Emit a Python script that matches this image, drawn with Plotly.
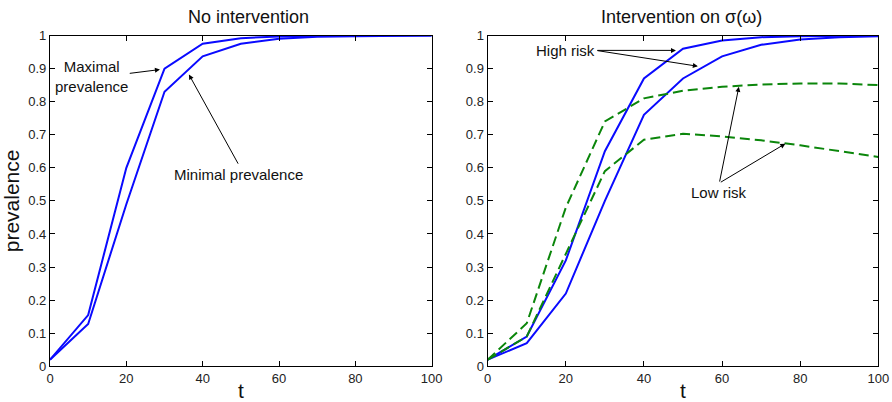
import plotly.graph_objects as go

t = [0, 10, 20, 30, 40, 50, 60, 70, 80, 90, 100]
max_prev = [0.02, 0.155, 0.60, 0.90, 0.975, 0.992, 0.997, 0.999, 1.0, 1.0, 1.0]
min_prev = [0.02, 0.128, 0.49, 0.83, 0.937, 0.975, 0.99, 0.996, 0.998, 0.999, 1.0]
high_risk_a = [0.02, 0.09, 0.32, 0.65, 0.87, 0.96, 0.985, 0.995, 0.998, 0.999, 1.0]
high_risk_b = [0.02, 0.07, 0.22, 0.50, 0.76, 0.87, 0.937, 0.972, 0.988, 0.995, 0.998]
low_risk_a = [0.02, 0.13, 0.48, 0.74, 0.81, 0.833, 0.845, 0.852, 0.855, 0.855, 0.85]
low_risk_b = [0.02, 0.09, 0.34, 0.59, 0.685, 0.703, 0.695, 0.683, 0.668, 0.65, 0.633]

y_ticks = [0, 0.1, 0.2, 0.3, 0.4, 0.5, 0.6, 0.7, 0.8, 0.9, 1]
y_tick_labels = ["0", "0.1", "0.2", "0.3", "0.4", "0.5", "0.6", "0.7", "0.8", "0.9", "1"]
x_ticks = [0, 20, 40, 60, 80, 100]

BLUE = "#0a0aff"
GREEN = "#0b860b"
FONT = "Liberation Sans, Arial, sans-serif"

fig = go.Figure()
fig.add_trace(go.Scatter(x=t, y=max_prev, mode="lines", line=dict(color=BLUE, width=2), xaxis="x", yaxis="y"))
fig.add_trace(go.Scatter(x=t, y=min_prev, mode="lines", line=dict(color=BLUE, width=2), xaxis="x", yaxis="y"))
fig.add_trace(go.Scatter(x=t, y=high_risk_a, mode="lines", line=dict(color=BLUE, width=2), xaxis="x2", yaxis="y2"))
fig.add_trace(go.Scatter(x=t, y=high_risk_b, mode="lines", line=dict(color=BLUE, width=2), xaxis="x2", yaxis="y2"))
fig.add_trace(go.Scatter(x=t, y=low_risk_a, mode="lines", line=dict(color=GREEN, width=2, dash="10px,5px"), xaxis="x2", yaxis="y2"))
fig.add_trace(go.Scatter(x=t, y=low_risk_b, mode="lines", line=dict(color=GREEN, width=2, dash="10px,5px"), xaxis="x2", yaxis="y2"))

common_axis = dict(showgrid=False, zeroline=False, showline=True, linecolor="black", linewidth=1.3,
                   mirror="allticks", ticks="inside", ticklen=5, tickcolor="black", automargin=False,
                   tickfont=dict(family=FONT, size=13, color="#222"))

ytop = 1 - 35.5 / 402
ybot = 1 - 366.3 / 402

fig.update_layout(
    width=892, height=402, margin=dict(l=0, r=0, t=0, b=0),
    paper_bgcolor="white", plot_bgcolor="white", showlegend=False,
    xaxis=dict(domain=[50 / 892, 431.7 / 892], range=[0, 100], tickvals=x_ticks, anchor="y",
               title=dict(text="t", font=dict(family=FONT, size=21, color="#111"), standoff=0), **common_axis),
    yaxis=dict(domain=[ybot, ytop], range=[0, 1], tickvals=y_ticks, ticktext=y_tick_labels, anchor="x",
               title=dict(text="prevalence", font=dict(family=FONT, size=21, color="#111"), standoff=2), **common_axis),
    xaxis2=dict(domain=[487.7 / 892, 878.3 / 892], range=[0, 100], tickvals=x_ticks, anchor="y2",
                title=dict(text="t", font=dict(family=FONT, size=21, color="#111"), standoff=0), **common_axis),
    yaxis2=dict(domain=[ybot, ytop], range=[0, 1], tickvals=y_ticks, ticktext=y_tick_labels, anchor="x2", **common_axis),
)

ann_font = dict(family=FONT, size=15, color="#111")
annotations = [
    dict(text="No intervention", xref="paper", yref="paper", x=248 / 892, y=1 - 17 / 402,
         showarrow=False, font=dict(family=FONT, size=18, color="#111"), xanchor="center", yanchor="middle"),
    dict(text="Intervention on σ(ω)", xref="paper", yref="paper", x=681 / 892, y=1 - 17 / 402,
         showarrow=False, font=dict(family=FONT, size=18, color="#111"), xanchor="center", yanchor="middle"),
    # left panel
    dict(text="Maximal<br>prevalence", xref="x", yref="y", x=11.0, y=0.877, showarrow=False,
         font=ann_font, align="center"),
    dict(text="", xref="x", yref="y", x=28.8, y=0.897, axref="x", ayref="y", ax=20.5, ay=0.885,
         showarrow=True, arrowhead=2, arrowsize=1, arrowwidth=1, arrowcolor="black"),
    dict(text="Minimal prevalence", xref="x", yref="y", x=49.5, y=0.58, showarrow=False, font=ann_font),
    dict(text="", xref="x", yref="y", x=36.4, y=0.882, axref="x", ayref="y", ax=49.5, ay=0.608,
         showarrow=True, arrowhead=2, arrowsize=1, arrowwidth=1, arrowcolor="black"),
    # right panel
    dict(text="High risk", xref="x2", yref="y2", x=20, y=0.955, showarrow=False, font=ann_font),
    dict(text="", xref="x2", yref="y2", x=48.2, y=0.955, axref="x2", ayref="y2", ax=27.7, ay=0.955,
         showarrow=True, arrowhead=2, arrowsize=1, arrowwidth=1, arrowcolor="black"),
    dict(text="", xref="x2", yref="y2", x=53.8, y=0.907, axref="x2", ayref="y2", ax=27.7, ay=0.955,
         showarrow=True, arrowhead=2, arrowsize=1, arrowwidth=1, arrowcolor="black"),
    dict(text="Low risk", xref="x2", yref="y2", x=59.2, y=0.526, showarrow=False, font=ann_font),
    dict(text="", xref="x2", yref="y2", x=64.3, y=0.845, axref="x2", ayref="y2", ax=59.3, ay=0.554,
         showarrow=True, arrowhead=2, arrowsize=1, arrowwidth=1, arrowcolor="black"),
    dict(text="", xref="x2", yref="y2", x=76.2, y=0.673, axref="x2", ayref="y2", ax=59.3, ay=0.554,
         showarrow=True, arrowhead=2, arrowsize=1, arrowwidth=1, arrowcolor="black"),
]
fig.update_layout(annotations=annotations)

fig.write_html("out.html")
